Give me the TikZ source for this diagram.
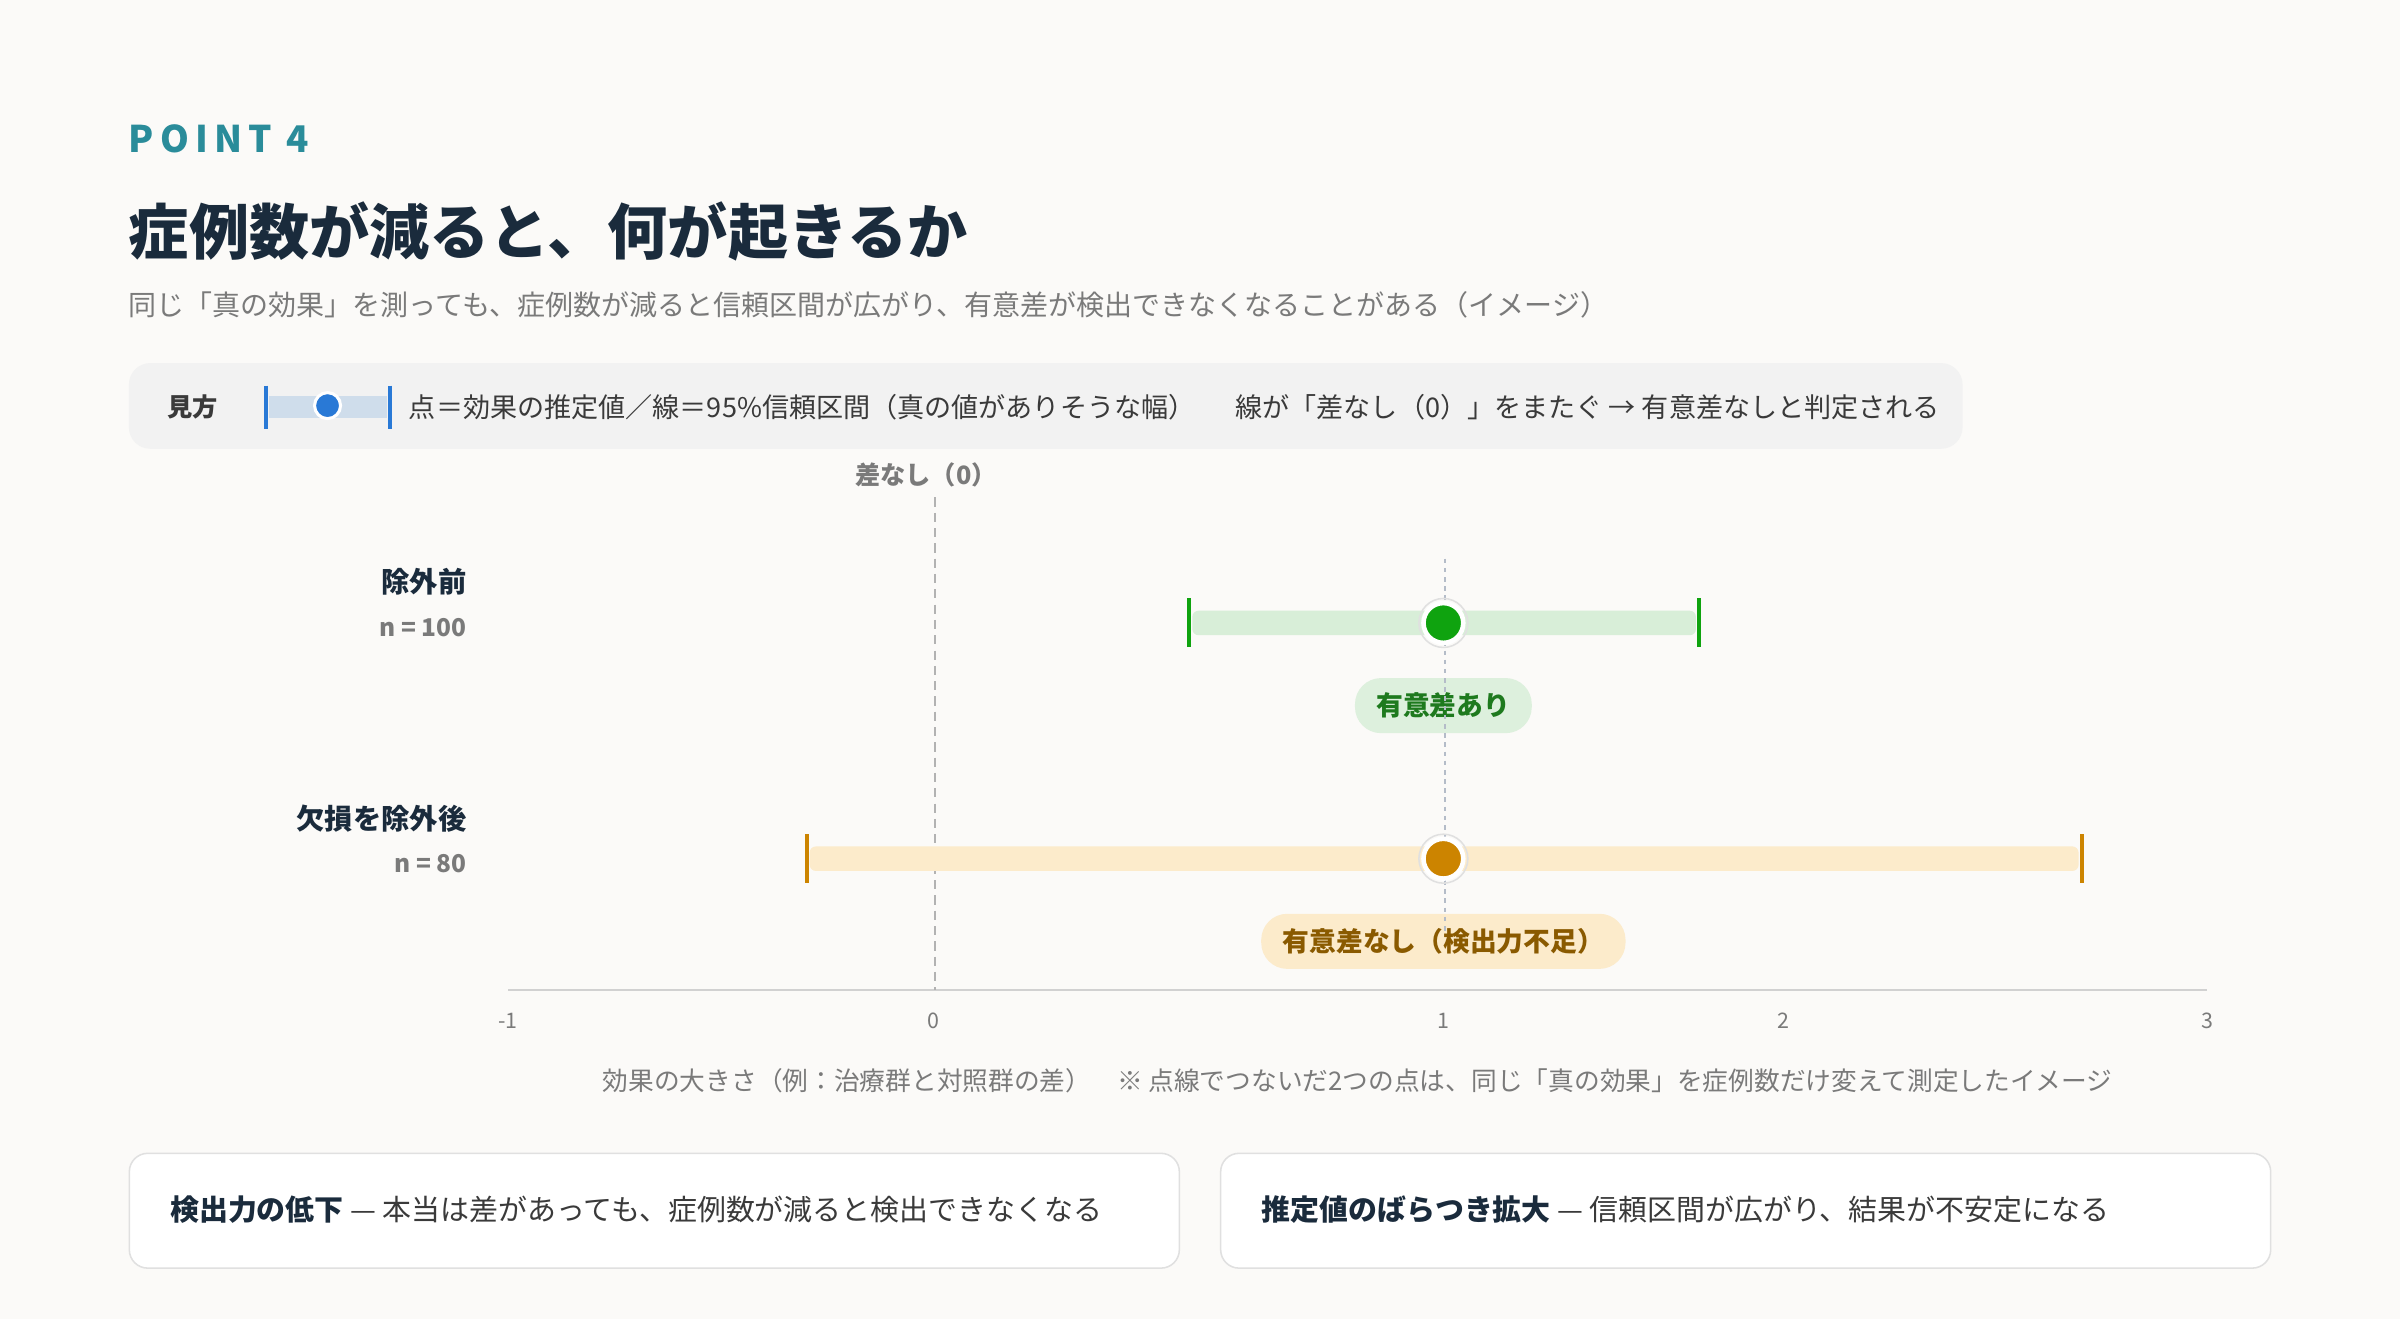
\documentclass[tikz,border=0pt]{standalone}
\usepackage{fontspec}
\setmainfont{Noto Sans CJK JP}
\definecolor{bg}{HTML}{FBFAF8}
\definecolor{teal}{HTML}{2A8C9A}
\definecolor{navy}{HTML}{1A2B3C}
\definecolor{gtext}{HTML}{7A7A7A}
\definecolor{dtext}{HTML}{3A3A3A}
\definecolor{gbar}{HTML}{D8EED8}
\definecolor{gdot}{HTML}{0FA30F}
\definecolor{gbadge}{HTML}{DDF0DD}
\definecolor{gbt}{HTML}{1E7A1E}
\definecolor{obar}{HTML}{FCEBCB}
\definecolor{odot}{HTML}{CC8400}
\definecolor{obt}{HTML}{8A5A00}
\definecolor{blue}{HTML}{2979D6}
\definecolor{lblue}{HTML}{CFDDEB}
\definecolor{dotl}{HTML}{B4BCC8}
\begin{document}
\begin{tikzpicture}[x=1pt,y=-1pt,
  lab/.style={font=\fontsize{18.5}{20}\selectfont\bfseries,text=navy,anchor=east,inner sep=0},
  nlab/.style={font=\fontsize{16}{18}\selectfont\bfseries,text=gtext,anchor=east,inner sep=0},
  tick/.style={font=\fontsize{14}{16}\selectfont,text=gtext,inner sep=0},
  badge/.style={rounded corners=17pt,minimum height=36pt,inner xsep=14pt,font=\fontsize{17.5}{19}\selectfont\bfseries},
  card/.style={draw=black!12,fill=white,rounded corners=12pt,line width=1pt},
  dot/.style={circle,draw=white,line width=3pt,minimum size=26pt,inner sep=0}]
\fill[bg] (0,0) rectangle (1568,862);
\useasboundingbox (0,0) rectangle (1568,862);
\node[anchor=west,text=teal,font=\fontsize{24}{26}\selectfont\bfseries,inner sep=0] (pt) at (84,91) {P\,O\,I\,N\,T\, 4};
\node[anchor=west,text=navy,font=\fontsize{39.3}{41}\selectfont\bfseries,inner sep=0] (title) at (84,151) {症例数が減ると、何が起きるか};
\node[anchor=west,text=gtext,font=\fontsize{18.3}{20}\selectfont,inner sep=0] (sub) at (84,199) {同じ「真の効果」を測っても、症例数が減ると信頼区間が広がり、有意差が検出できなくなることがある（イメージ）};
% legend
\node[fill=black!5,rounded corners=14pt,minimum width=1198pt,minimum height=56pt,anchor=north west,inner sep=0] (leg) at (84,237) {};
\node[anchor=west,text=dtext,font=\fontsize{16.5}{18}\selectfont\bfseries,inner sep=0] (mk) at (109,266) {見方};
\fill[lblue] (176,259) rectangle (253,273);
\draw[blue,line width=2.5pt] (174,252) coordinate (la) -- (174,280);
\draw[blue,line width=2.5pt] (255,252) -- (255,280);
\node[dot,fill=blue,minimum size=17pt,line width=2pt] (ld) at (214,265) {};
\node[anchor=west,text=dtext,font=\fontsize{17.7}{19}\selectfont,inner sep=0] (lt1) at (267,266) {点＝効果の推定値／線＝95\%信頼区間（真の値がありそうな幅）};
\node[anchor=west,text=dtext,font=\fontsize{17.7}{19}\selectfont,inner sep=0] (lt2) at (807,266) {線が「差なし（0）」をまたぐ → 有意差なしと判定される};
% axis
\coordinate (a0) at (332,647); \coordinate (a1) at (1442,647);
\draw[black!18,line width=1.2pt] (a0) -- (a1);
\node[tick] at (332,667) {-1};
\node[tick] at (610,667) {0};
\node[tick] at (943,667) {1};
\node[tick] at (1165,667) {2};
\node[tick] at (1442,667) {3};
\coordinate (z0) at (611,325); \coordinate (z1) at (611,647);
\draw[black!30,dash pattern=on 6pt off 4pt,line width=1.5pt] (z0) -- (z1);
\node[text=gtext,font=\fontsize{16.5}{18}\selectfont\bfseries,inner sep=0] (zl) at (605,310) {差なし（0）};
% row 1
\node[lab] (r1) at (305,380) {除外前};
\node[nlab] (n1) at (305,410) {n = 100};
\fill[gbar,rounded corners=4pt] (779,399) rectangle (1108,415);
\draw[gdot,line width=2.5pt] (777,391) -- (777,423);
\draw[gdot,line width=2.5pt] (1110,391) -- (1110,423);
% row 2
\node[lab] (r2) at (305,535) {欠損を除外後};
\node[nlab] (n2) at (305,564) {n = 80};
\fill[obar,rounded corners=4pt] (529,553) rectangle (1358,569);
\draw[odot,line width=2.5pt] (527,545) -- (527,577);
\draw[odot,line width=2.5pt] (1360,545) -- (1360,577);
% badges
\node[badge,fill=gbadge,text=gbt] (b1) at (943,461) {有意差あり};
\node[badge,fill=obar,text=obt] (b2) at (943,615) {有意差なし（検出力不足）};
% dotted link
\coordinate (d0) at (944,365); \coordinate (d1) at (944,610);
\draw[dotl,dash pattern=on 3pt off 3pt,line width=1.5pt] (d0) -- (d1);
\node[dot,fill=gdot] (p1) at (943,407) {};
\node[dot,fill=odot] (p2) at (943,561) {};
\draw[black!12,line width=1pt] (p1) circle (16pt);
\draw[black!12,line width=1pt] (p2) circle (16pt);
\node[text=gtext,font=\fontsize{16.8}{18}\selectfont,inner sep=0] (cap) at (887,706) {効果の大きさ（例：治療群と対照群の差）　※ 点線でつないだ2つの点は、同じ「真の効果」を症例数だけ変えて測定したイメージ};
% cards
\node[card,minimum width=686pt,minimum height=75pt,anchor=north west] (c1) at (84,753) {};
\node[card,minimum width=686pt,minimum height=75pt,anchor=north west] (c2) at (797,753) {};
\node[anchor=west,inner sep=0,font=\fontsize{18.9}{20}\selectfont,text=dtext] (t1) at (111,790) {\textcolor{navy}{\bfseries 検出力の低下} — 本当は差があっても、症例数が減ると検出できなくなる};
\node[anchor=west,inner sep=0,font=\fontsize{18.9}{20}\selectfont,text=dtext] (t2) at (824,790) {\textcolor{navy}{\bfseries 推定値のばらつき拡大} — 信頼区間が広がり、結果が不安定になる};
\end{tikzpicture}
\end{document}
